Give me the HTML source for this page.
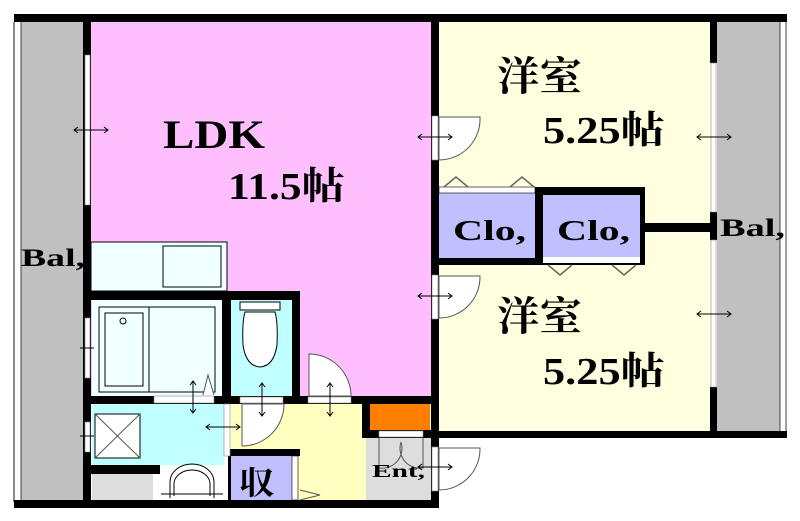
<!DOCTYPE html>
<html><head><meta charset="utf-8"><style>
html,body{margin:0;padding:0;background:#fff;}
svg{display:block;}
.t{font-family:"Liberation Serif","Noto Serif CJK SC",serif;font-weight:bold;fill:#000;}
</style></head><body>
<svg width="800" height="521" viewBox="0 0 800 521" xmlns="http://www.w3.org/2000/svg">
<rect x="14" y="14" width="70" height="494" fill="#c0c0c0"/>
<rect x="14" y="22" width="7" height="480" fill="#fff"/>
<line x1="14" y1="22" x2="14" y2="502" stroke="#666" stroke-width="1.5"/>
<line x1="21" y1="22" x2="21" y2="502" stroke="#444" stroke-width="1"/>
<rect x="717" y="14" width="70" height="424" fill="#c0c0c0"/>
<rect x="780" y="22" width="6" height="410" fill="#fff"/>
<line x1="780" y1="22" x2="780" y2="432" stroke="#444" stroke-width="1"/>
<line x1="786" y1="22" x2="786" y2="432" stroke="#888" stroke-width="1.5"/>
<rect x="91" y="22" width="340" height="374" fill="#ffbfff"/>
<rect x="439" y="22" width="272" height="410" fill="#ffffe0"/>
<rect x="91" y="242" width="136" height="49" fill="#f0ffff" stroke="#000" stroke-width="1"/>
<rect x="163" y="246" width="58" height="41" fill="#f0ffff" stroke="#000" stroke-width="1"/>
<rect x="92" y="300" width="130" height="96" fill="#f0ffff"/>
<rect x="99" y="307" width="116" height="85" fill="none" stroke="#000" stroke-width="1"/>
<rect x="105" y="313" width="38" height="73" fill="none" stroke="#000" stroke-width="1"/>
<circle cx="123" cy="321" r="3" fill="none" stroke="#000"/>
<line x1="149" y1="307" x2="149" y2="392" stroke="#000"/>
<rect x="231" y="300" width="61" height="96" fill="#c0ffff"/>
<rect x="92" y="404" width="132" height="61" fill="#c0ffff"/>
<rect x="95" y="414" width="45" height="44" fill="#fff" stroke="#000"/>
<line x1="95" y1="414" x2="140" y2="458" stroke="#555"/><line x1="140" y1="414" x2="95" y2="458" stroke="#555"/>
<rect x="92" y="474" width="61" height="26" fill="#ddd"/>
<rect x="161" y="466" width="62" height="34" fill="#fff"/>
<path d="M170 498 V482 a22 18 0 0 1 44 0 V498" fill="none" stroke="#000"/>
<path d="M174 496 V484 a18 14 0 0 1 36 0 V496" fill="none" stroke="#000"/>
<line x1="161" y1="494" x2="223" y2="494" stroke="#000"/>
<rect x="231" y="404" width="135" height="96" fill="#ffffc0"/>
<rect x="366" y="438" width="65" height="62" fill="#ddd"/>
<rect x="370" y="404" width="60" height="26" fill="#ff8000"/>
<rect x="231" y="456" width="61" height="44" fill="#c0c0ff"/>
<rect x="292" y="456" width="6" height="44" fill="#fff" stroke="#000" stroke-width="0.6"/>
<rect x="240" y="302" width="40" height="8" fill="#fff" stroke="#000"/>
<path d="M245 312 Q242 322 243 345 Q246 366 260 367 Q274 366 277 345 Q278 322 275 312 Z" fill="#fff" stroke="#000"/>
<rect x="439" y="193" width="96" height="65" fill="#c0c0ff"/>
<rect x="439" y="187" width="96" height="6" fill="#fff" stroke="#000" stroke-width="0.6"/>
<rect x="535" y="187" width="110" height="78" fill="#000"/>
<rect x="543" y="195" width="97" height="62" fill="#c0c0ff"/>
<rect x="543" y="257" width="97" height="6" fill="#fff"/>
<path d="M444 187 l12 -10 l12 10 M510 187 l12 -10 l12 10 M548 265 l12 10 l12 -10 M612 265 l12 10 l12 -10" fill="none" stroke="#666" stroke-width="1.5"/>
<g fill="#000">
<rect x="14" y="14" width="773" height="8"/>
<rect x="83" y="14" width="8" height="494"/>
<rect x="14" y="500" width="425" height="8"/>
<rect x="431" y="14" width="8" height="494"/>
<rect x="431" y="431" width="356" height="7"/>
<rect x="710" y="14" width="7" height="49"/>
<rect x="710" y="387" width="7" height="48"/>
<rect x="710" y="212" width="7" height="28"/>
<rect x="645" y="223" width="67" height="9"/>
<rect x="431" y="258" width="112" height="7"/>
<rect x="83" y="291" width="217" height="9"/>
<rect x="222" y="291" width="9" height="113"/>
<rect x="292" y="291" width="8" height="113"/>
<rect x="83" y="396" width="287" height="8"/>
<rect x="362" y="396" width="8" height="42"/>
<rect x="362" y="430" width="76" height="8"/>
<rect x="362" y="396" width="77" height="8"/>
<rect x="83" y="465" width="77" height="9"/>
<rect x="228" y="449" width="72" height="7"/>
<rect x="228" y="449" width="3" height="59"/>
</g>
<rect x="85" y="55" width="5" height="150" fill="#fff" stroke="#888" stroke-width="0.6"/>
<rect x="85" y="318" width="5" height="60" fill="#fff" stroke="#888" stroke-width="0.6"/>
<rect x="85" y="422" width="5" height="30" fill="#fff" stroke="#888" stroke-width="0.6"/>
<rect x="711" y="63" width="5" height="149" fill="#fff" stroke="#888" stroke-width="0.6"/>
<rect x="711" y="240" width="5" height="147" fill="#fff" stroke="#888" stroke-width="0.6"/>
<g fill="#fff" stroke="#888" stroke-width="0.6">
<rect x="432" y="116" width="6" height="44"/><rect x="432" y="275" width="6" height="44"/><rect x="432" y="447" width="6" height="44"/>
<rect x="154" y="396" width="60" height="7"/><rect x="240" y="397" width="43" height="6"/><rect x="308" y="397" width="43" height="6"/>
<rect x="379" y="431" width="44" height="6"/><rect x="224" y="404" width="6" height="52"/>
</g>
<g fill="#fff" stroke="#555" stroke-width="1">
<path d="M439 117 H480 A41 41 0 0 1 439 160 Z"/>
<path d="M439 276 H480 A41 41 0 0 1 439 318 Z"/>
<path d="M439 448 H480 A41 41 0 0 1 439 490 Z"/>
<path d="M309 396 V354 A42 42 0 0 1 351 396 Z"/>
<path d="M242 404 H284 A42 42 0 0 1 242 446 Z"/>
<path d="M379 438 V468 A20 20 0 0 0 401 442 M423 438 V468 A20 20 0 0 1 401 442" fill="none"/>
<path d="M203 395 L208 375 L214 395" fill="#fff"/>
<path d="M300 500 L320 495 L300 490" fill="none"/>
</g>
<g stroke="#000" stroke-width="1" fill="none">
<path d="M74 130 H108 M78 127 l-4 3 l4 3 M104 127 l4 3 l-4 3"/>
<path d="M418 137 H452 M422 134 l-4 3 l4 3 M448 134 l4 3 l-4 3"/>
<path d="M418 296 H452 M422 293 l-4 3 l4 3 M448 293 l4 3 l-4 3"/>
<path d="M697 137 H731 M701 134 l-4 3 l4 3 M727 134 l4 3 l-4 3"/>
<path d="M697 314 H731 M701 311 l-4 3 l4 3 M727 311 l4 3 l-4 3"/>
<path d="M418 467 H452 M422 464 l-4 3 l4 3 M448 464 l4 3 l-4 3"/>
<path d="M206 427 H240 M210 424 l-4 3 l4 3 M236 424 l4 3 l-4 3"/>
<path d="M193 381 V413 M190 385 l3 -4 l3 4 M190 409 l3 4 l3 -4"/>
<path d="M262 383 V416 M259 387 l3 -4 l3 4 M259 412 l3 4 l3 -4"/>
<path d="M330 383 V416 M327 387 l3 -4 l3 4 M327 412 l3 4 l3 -4"/>
<path d="M80 348 H94 M80 436 H94"/>
</g>
<text class="t" x="163" y="148" font-size="40" textLength="102" lengthAdjust="spacingAndGlyphs">LDK</text>
<text class="t" x="228" y="199" font-size="38" textLength="117" lengthAdjust="spacingAndGlyphs">11.5帖</text>
<text class="t" x="497" y="90" font-size="40" textLength="85" lengthAdjust="spacingAndGlyphs">洋室</text>
<text class="t" x="543" y="143" font-size="38" textLength="122" lengthAdjust="spacingAndGlyphs">5.25帖</text>
<text class="t" x="497" y="330" font-size="40" textLength="85" lengthAdjust="spacingAndGlyphs">洋室</text>
<text class="t" x="543" y="384" font-size="38" textLength="122" lengthAdjust="spacingAndGlyphs">5.25帖</text>
<text class="t" x="453" y="240" font-size="28" textLength="73" lengthAdjust="spacingAndGlyphs">Clo,</text>
<text class="t" x="557" y="240" font-size="28" textLength="73" lengthAdjust="spacingAndGlyphs">Clo,</text>
<text class="t" x="21" y="266" font-size="25" textLength="64" lengthAdjust="spacingAndGlyphs">Bal,</text>
<text class="t" x="720" y="236" font-size="25" textLength="65" lengthAdjust="spacingAndGlyphs">Bal,</text>
<text class="t" x="239" y="494" font-size="32" textLength="36" lengthAdjust="spacingAndGlyphs">収</text>
<text class="t" x="372" y="477" font-size="18" textLength="53" lengthAdjust="spacingAndGlyphs">Ent,</text>
</svg>
</body></html>
